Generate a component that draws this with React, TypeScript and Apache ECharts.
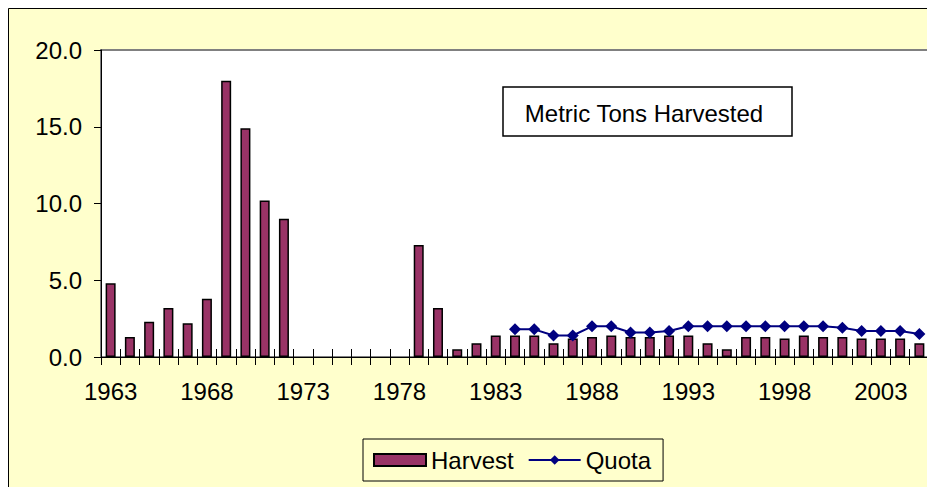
import React, { useEffect, useRef } from "react";
import * as echarts from "echarts";

const years: string[] = [];
for (let y = 1963; y <= 2005; y++) years.push(String(y));

const harvest: (number | null)[] = [
  4.8, 1.3, 2.3, 3.2, 2.2, 3.8, 18.0, 14.9, 10.2, 9.0,
  null, null, null, null, null, null,
  7.3, 3.2, 0.5, 0.9, 1.4, 1.4, 1.4, 0.9, 1.2, 1.3,
  1.4, 1.3, 1.3, 1.4, 1.4, 0.9, 0.5, 1.3, 1.3, 1.2,
  1.4, 1.3, 1.3, 1.2, 1.2, 1.2, 0.9,
];

const quota: (number | null)[] = [
  null, null, null, null, null, null, null, null, null, null,
  null, null, null, null, null, null, null, null, null, null, null,
  1.8, 1.8, 1.4, 1.4, 2.0, 2.0, 1.6, 1.6, 1.7, 2.0,
  2.0, 2.0, 2.0, 2.0, 2.0, 2.0, 2.0, 1.9, 1.7, 1.7, 1.7, 1.5,
];

const yTicks = [0, 5, 10, 15, 20];

const FONT = "'Liberation Sans', Arial, sans-serif";
const FS = 24;

export default function App() {
  const ref = useRef<HTMLDivElement>(null);
  useEffect(() => {
    if (!ref.current) return;
    const chart = echarts.init(ref.current, null, { renderer: "svg" });
    chart.setOption({
      animation: false,
      backgroundColor: "#FFFFCC",
      textStyle: { fontFamily: FONT },
      grid: {
        left: 93,
        top: 42,
        right: 6,
        bottom: 130,
        show: true,
        backgroundColor: "#FFFFFF",
        borderColor: "#808080",
        borderWidth: 2,
      },
      legend: {
        left: 355,
        top: 431,
        padding: [9, 12, 9, 10],
        borderColor: "#000",
        borderWidth: 1,
        backgroundColor: "#FFFFCC",
        itemWidth: 52,
        itemHeight: 12,
        itemGap: 14,
        textStyle: { fontSize: FS, color: "#000", fontFamily: FONT },
        data: [{ name: "Harvest", icon: "rect" }, { name: "Quota" }],
      },
      xAxis: [
        {
          type: "category",
          data: years,
          position: "bottom",
          axisLine: { lineStyle: { color: "#000", width: 1 } },
          axisTick: { show: true, interval: 0, length: 8, inside: false, lineStyle: { color: "#000" } },
          axisLabel: { interval: 4, margin: 22, fontSize: FS, color: "#000", fontFamily: FONT },
          splitLine: { show: false },
        },
        {
          type: "category",
          data: years,
          position: "bottom",
          axisLine: { show: false },
          axisTick: { show: true, interval: 0, length: 8, inside: true, lineStyle: { color: "#000" } },
          axisLabel: { show: false },
          splitLine: { show: false },
        },
      ],
      yAxis: {
        type: "value",
        min: yTicks[0],
        max: yTicks[yTicks.length - 1],
        interval: 5,
        axisLine: { show: true, lineStyle: { color: "#000", width: 1 } },
        axisTick: { show: true, length: 7, inside: false, lineStyle: { color: "#000" } },
        axisLabel: {
          margin: 19,
          fontSize: FS,
          color: "#000",
          fontFamily: FONT,
          formatter: (v: number) => v.toFixed(1),
        },
        splitLine: { show: false },
      },
      graphic: [
        {
          type: "line",
          shape: { x1: 0.5, y1: 0.5, x2: 927, y2: 0.5 },
          style: { stroke: "#000", lineWidth: 1 },
          z: 100,
        },
        {
          type: "line",
          shape: { x1: 0.5, y1: 0.5, x2: 0.5, y2: 479 },
          style: { stroke: "#000", lineWidth: 1 },
          z: 100,
        },
        {
          type: "rect",
          shape: { x: 495, y: 79, width: 289, height: 49 },
          style: { fill: "#fff", stroke: "#000", lineWidth: 1.5 },
          z: 100,
        },
        {
          type: "text",
          x: 636,
          y: 105,
          style: {
            text: "Metric Tons Harvested",
            font: `${FS}px ${FONT}`,
            fill: "#000",
            align: "center",
            verticalAlign: "middle",
          },
          z: 101,
        },
      ],
      series: [
        {
          name: "Harvest",
          type: "bar",
          data: harvest,
          xAxisIndex: 0,
          barWidth: 10,
          itemStyle: { color: "#993366", borderColor: "#000", borderWidth: 1.5 },
        },
        {
          name: "Quota",
          type: "line",
          data: quota,
          xAxisIndex: 0,
          symbol: "diamond",
          symbolSize: 12,
          lineStyle: { color: "#000080", width: 2 },
          itemStyle: { color: "#000080" },
          connectNulls: false,
          z: 3,
        },
      ],
    });
    return () => chart.dispose();
  }, []);
  return <div ref={ref} style={{ width: 927, height: 479 }} />;
}
